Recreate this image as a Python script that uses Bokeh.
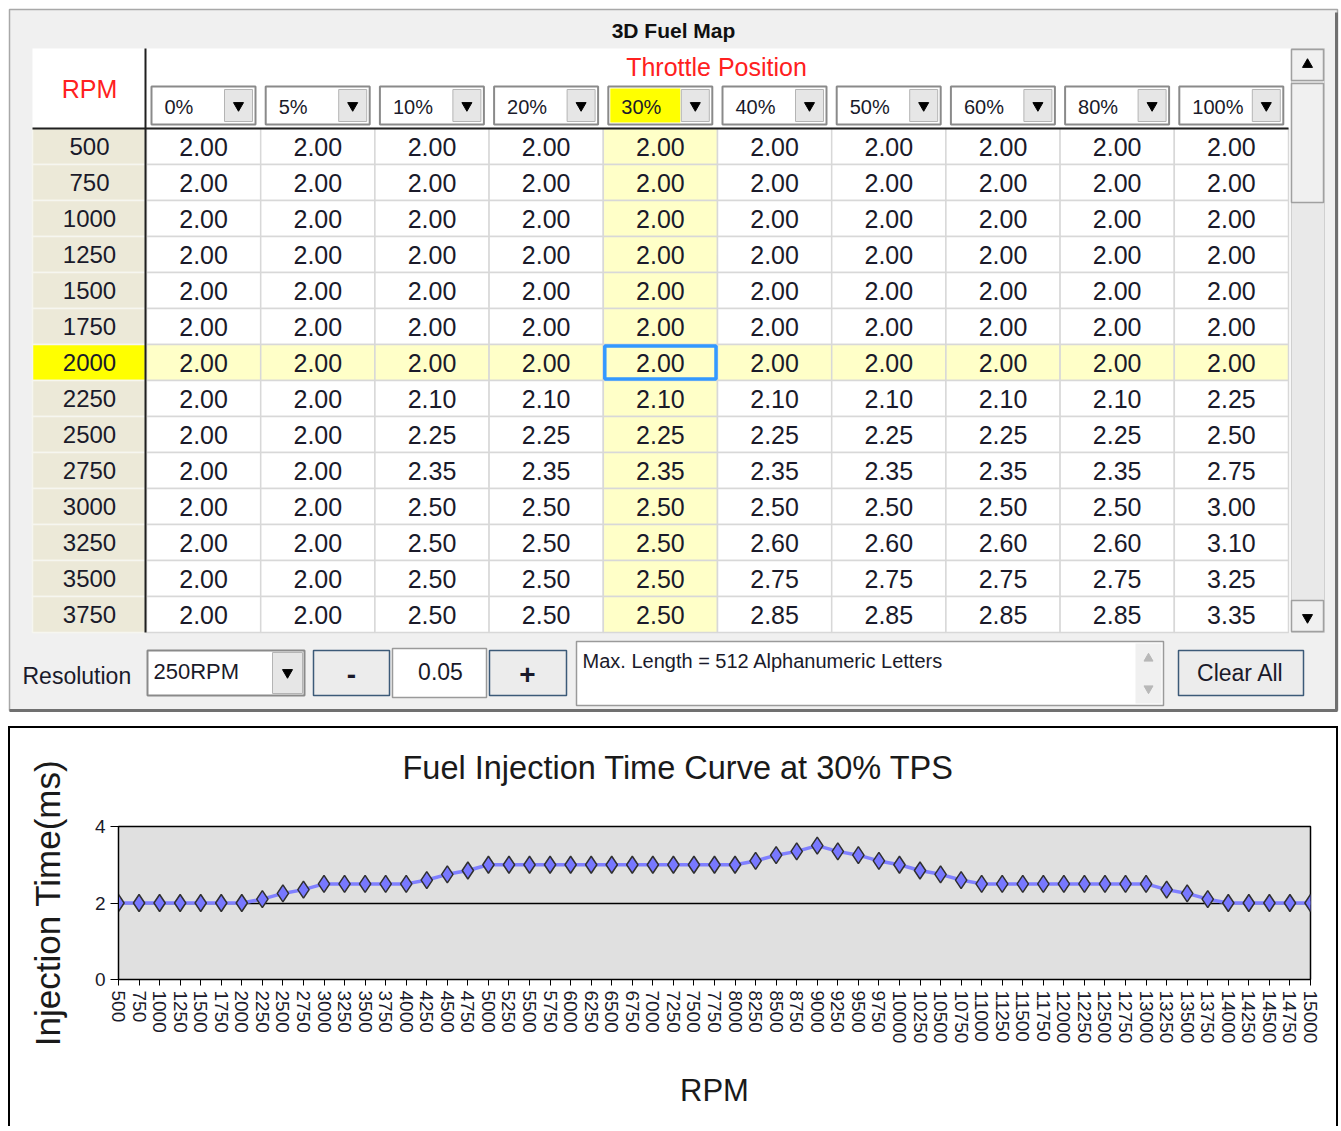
from bokeh.plotting import figure
from bokeh.models import Range1d, FixedTicker, Title
from bokeh.core.properties import value
from bokeh.embed import file_html
from bokeh.resources import INLINE

# ---------------- data ----------------
tps_labels = ["0%", "5%", "10%", "20%", "30%", "40%", "50%", "60%", "80%", "100%"]
table_rpm = [500, 750, 1000, 1250, 1500, 1750, 2000, 2250, 2500, 2750, 3000, 3250, 3500, 3750]

tps_0 = [2.00, 2.00, 2.00, 2.00, 2.00, 2.00, 2.00, 2.00, 2.00, 2.00, 2.00, 2.00, 2.00, 2.00]
tps_5 = [2.00, 2.00, 2.00, 2.00, 2.00, 2.00, 2.00, 2.00, 2.00, 2.00, 2.00, 2.00, 2.00, 2.00]
tps_10 = [2.00, 2.00, 2.00, 2.00, 2.00, 2.00, 2.00, 2.10, 2.25, 2.35, 2.50, 2.50, 2.50, 2.50]
tps_20 = [2.00, 2.00, 2.00, 2.00, 2.00, 2.00, 2.00, 2.10, 2.25, 2.35, 2.50, 2.50, 2.50, 2.50]
tps_30 = [2.00, 2.00, 2.00, 2.00, 2.00, 2.00, 2.00, 2.10, 2.25, 2.35, 2.50, 2.50, 2.50, 2.50]
tps_40 = [2.00, 2.00, 2.00, 2.00, 2.00, 2.00, 2.00, 2.10, 2.25, 2.35, 2.50, 2.60, 2.75, 2.85]
tps_50 = [2.00, 2.00, 2.00, 2.00, 2.00, 2.00, 2.00, 2.10, 2.25, 2.35, 2.50, 2.60, 2.75, 2.85]
tps_60 = [2.00, 2.00, 2.00, 2.00, 2.00, 2.00, 2.00, 2.10, 2.25, 2.35, 2.50, 2.60, 2.75, 2.85]
tps_80 = [2.00, 2.00, 2.00, 2.00, 2.00, 2.00, 2.00, 2.10, 2.25, 2.35, 2.50, 2.60, 2.75, 2.85]
tps_100 = [2.00, 2.00, 2.00, 2.00, 2.00, 2.00, 2.00, 2.25, 2.50, 2.75, 3.00, 3.10, 3.25, 3.35]
table_cols = [tps_0, tps_5, tps_10, tps_20, tps_30, tps_40, tps_50, tps_60, tps_80, tps_100]

selected_rpm = 2000
selected_tps = "30%"

curve_rpm = [500, 750, 1000, 1250, 1500, 1750, 2000, 2250, 2500, 2750, 3000, 3250, 3500, 3750,
             4000, 4250, 4500, 4750, 5000, 5250, 5500, 5750, 6000, 6250, 6500, 6750, 7000, 7250,
             7500, 7750, 8000, 8250, 8500, 8750, 9000, 9250, 9500, 9750, 10000, 10250, 10500,
             10750, 11000, 11250, 11500, 11750, 12000, 12250, 12500, 12750, 13000, 13250, 13500,
             13750, 14000, 14250, 14500, 14750, 15000]
curve_ms = [2.00, 2.00, 2.00, 2.00, 2.00, 2.00, 2.00, 2.10, 2.25, 2.35, 2.50, 2.50, 2.50, 2.50,
            2.50, 2.60, 2.75, 2.85, 3.00, 3.00, 3.00, 3.00, 3.00, 3.00, 3.00, 3.00, 3.00, 3.00,
            3.00, 3.00, 3.00, 3.10, 3.25, 3.35, 3.50, 3.35, 3.25, 3.10, 3.00, 2.85, 2.75,
            2.60, 2.50, 2.50, 2.50, 2.50, 2.50, 2.50, 2.50, 2.50, 2.50, 2.35, 2.25,
            2.10, 2.00, 2.00, 2.00, 2.00, 2.00]
y_ticks = [0, 2, 4]

FONT = value("Liberation Sans")
TXT = "#1a1a2a"

# ---------------- top panel (UI table) ----------------
p1 = figure(width=1340, height=726, x_range=Range1d(0, 1340), y_range=Range1d(726, 0),
            output_backend="svg", toolbar_location=None, min_border=0,
            x_axis_location=None, y_axis_location=None)
p1.grid.visible = False
p1.outline_line_color = None
p1.background_fill_color = "white"
p1.border_fill_color = "white"

# window
p1.quad(left=9, right=1337, top=9, bottom=710, fill_color="#f0f0f0", line_color="#a8a8a8", line_width=1.5)
p1.segment(x0=[9, 1336], y0=[710, 12], x1=[1337, 1336], y1=[710, 710], line_color="#707070", line_width=3)
p1.text(x=[673], y=[30], text=["3D Fuel Map"], text_font=FONT, text_font_style="bold",
        text_font_size="21px", text_align="center", text_baseline="middle", text_color="#101010")

# table background
TL, TR, TT, TB = 32, 1290, 48, 632
p1.quad(left=TL, right=TR, top=TT, bottom=TB, fill_color="white", line_color=None)

CX0, CW = 146, 114.2
RY0, RH = 128, 36

# cells
cl, cr, ct, cb, cf = [], [], [], [], []
tx, ty, tt = [], [], []
for i, r in enumerate(table_rpm):
    top = RY0 + i * RH
    for j, lab in enumerate(tps_labels):
        left = CX0 + j * CW
        cl.append(left); cr.append(left + CW); ct.append(top); cb.append(top + RH)
        cf.append("#ffffc8" if (lab == selected_tps or r == selected_rpm) else "white")
        tx.append(left + CW / 2); ty.append(top + RH / 2); tt.append("%.2f" % table_cols[j][i])
p1.quad(left=cl, right=cr, top=ct, bottom=cb, fill_color=cf, line_color="#d8d8d8", line_width=1.5)

rt, rb, rf, rtx = [], [], [], []
for i, r in enumerate(table_rpm):
    top = RY0 + i * RH
    rt.append(top); rb.append(top + RH)
    rf.append("#ffff00" if r == selected_rpm else "#ece9d8")
    rtx.append(top + RH / 2)
p1.quad(left=TL, right=145, top=rt, bottom=rb, fill_color=rf, line_color="#f6f6f0", line_width=1.5)
p1.text(x=[89] * len(table_rpm), y=rtx, text=[str(r) for r in table_rpm], text_font=FONT,
        text_font_size="24px", text_align="center", text_baseline="middle", text_color=TXT)
p1.text(x=tx, y=ty, text=tt, text_font=FONT, text_font_size="25px", text_align="center",
        text_baseline="middle", text_color=TXT)

# selected cell
si = table_rpm.index(selected_rpm)
sj = tps_labels.index(selected_tps)
p1.quad(left=CX0 + sj * CW + 1.5, right=CX0 + (sj + 1) * CW - 1.5, top=RY0 + si * RH + 1.5,
        bottom=RY0 + (si + 1) * RH - 1.5, fill_color=None, line_color="#3399ff", line_width=3.5)

# dark separators
p1.segment(x0=[145, TL], y0=[TT, 128], x1=[145, 1288], y1=[TB, 128], line_color="#202020", line_width=2)

# header texts
p1.text(x=[89], y=[88], text=["RPM"], text_font=FONT, text_font_size="25px", text_align="center",
        text_baseline="middle", text_color="#ff2020")
p1.text(x=[716], y=[66], text=["Throttle Position"], text_font=FONT, text_font_size="25px",
        text_align="center", text_baseline="middle", text_color="#ff2020")

# combo boxes in header
bl, br, al, ar, tri_x, lx = [], [], [], [], [], []
for j, lab in enumerate(tps_labels):
    left = CX0 + j * CW + 5
    right = left + 104
    bl.append(left); br.append(right)
    al.append(right - 31); ar.append(right - 3)
    tri_x.append(right - 17)
    lx.append(left + 13)
p1.quad(left=bl, right=br, top=86, bottom=124, fill_color="white", line_color="#8a8a8a", line_width=2)
p1.quad(left=[bl[sj] + 2], right=[al[sj] - 1], top=88, bottom=122, fill_color="#ffff00", line_color=None)
p1.quad(left=al, right=ar, top=89, bottom=121, fill_color="#e6e6e6", line_color="#b4b4b4", line_width=1)
p1.scatter(x=tri_x, y=[105] * len(tri_x), marker="inverted_triangle", size=10, fill_color="black", line_color="black")
p1.text(x=lx, y=[106] * len(lx), text=tps_labels, text_font=FONT, text_font_size="20px",
        text_align="left", text_baseline="middle", text_color=TXT)

# scrollbar
p1.quad(left=1291, right=1324, top=48, bottom=632, fill_color="#e9e9e9", line_color="#d0d0d0")
p1.quad(left=[1291, 1291, 1291], right=[1323, 1323, 1323], top=[49, 83, 600], bottom=[80, 202, 631],
        fill_color="#f0f0f0", line_color="#a0a0a0", line_width=1.5)
p1.scatter(x=[1307], y=[64], marker="triangle", size=10, fill_color="black", line_color="black")
p1.scatter(x=[1307], y=[617], marker="inverted_triangle", size=10, fill_color="black", line_color="black")

# bottom controls
p1.text(x=[22], y=[675], text=["Resolution"], text_font=FONT, text_font_size="23px",
        text_align="left", text_baseline="middle", text_color=TXT)
p1.quad(left=147, right=304, top=650, bottom=695, fill_color="white", line_color="#8a8a8a", line_width=2)
p1.quad(left=272, right=302, top=652, bottom=693, fill_color="#e6e6e6", line_color="#b4b4b4")
p1.scatter(x=[287], y=[672], marker="inverted_triangle", size=10, fill_color="black", line_color="black")
p1.text(x=[153], y=[671], text=["250RPM"], text_font=FONT, text_font_size="22px",
        text_align="left", text_baseline="middle", text_color=TXT)
p1.quad(left=[313, 489, 1178], right=[389, 566, 1303], top=650, bottom=695,
        fill_color="#ececec", line_color="#3c5a78", line_width=1.5)
p1.quad(left=392, right=486, top=648, bottom=697, fill_color="white", line_color="#9a9a9a", line_width=1.5)
p1.text(x=[351, 527], y=[674, 674], text=["-", "+"], text_font=FONT, text_font_size="28px",
        text_font_style="bold", text_align="center", text_baseline="middle", text_color=TXT)
p1.text(x=[440, 1240], y=[671, 672], text=["0.05", "Clear All"], text_font=FONT, text_font_size="23px",
        text_align="center", text_baseline="middle", text_color=TXT)
p1.quad(left=576, right=1163, top=641, bottom=705, fill_color="white", line_color="#9a9a9a", line_width=1.5)
p1.quad(left=1135, right=1161, top=643, bottom=703, fill_color="#f0f0f0", line_color=None)
p1.scatter(x=[1148, 1148], y=[658, 688], marker=["triangle", "inverted_triangle"], size=9,
           fill_color="#b8b8b8", line_color="#b8b8b8")
p1.text(x=[582], y=[660], text=["Max. Length = 512 Alphanumeric Letters"], text_font=FONT,
        text_font_size="20px", text_align="left", text_baseline="middle", text_color=TXT)

# ---------------- bottom chart ----------------
p2 = figure(width=1330, height=400, x_range=Range1d(500, 15000), y_range=Range1d(0, 4),
            output_backend="svg", toolbar_location=None,
            min_border_left=110, min_border_right=28, min_border_top=100, min_border_bottom=147)
p2.background_fill_color = "#e0e0e0"
p2.border_fill_color = None
p2.outline_line_color = "black"
p2.outline_line_width = 1.5
p2.styles = {"margin-left": "8px",
             "box-shadow": "inset 2px 2px 0 0 #000, inset -2px 0 0 0 #000",
             "background-color": "white"}
p2.xgrid.visible = False
p2.ygrid.ticker = FixedTicker(ticks=[2, 4])
p2.ygrid.grid_line_color = "black"
p2.ygrid.grid_line_width = 1.5

# white (invisible) spacer closest to the frame, then the chart title above it
p2.add_layout(Title(text=".", text_font_size="10px", text_color="white", standoff=26), "above")
p2.add_layout(Title(text="Fuel Injection Time Curve at 30% TPS", align="left", offset=284,
                    vertical_align="bottom", standoff=10, text_font="Liberation Sans",
                    text_font_style="normal", text_font_size="32.5px", text_color="#1a1a1a"), "above")

p2.xaxis.ticker = FixedTicker(ticks=curve_rpm, minor_ticks=[])
p2.xaxis.major_label_overrides = {v: str(v) for v in curve_rpm}
p2.xaxis.major_label_orientation = "vertical"
p2.yaxis.ticker = FixedTicker(ticks=y_ticks, minor_ticks=[])
for ax in (p2.xaxis, p2.yaxis):
    ax.major_label_text_font = "Liberation Sans"
    ax.major_label_text_font_size = "19px"
    ax.major_label_text_color = TXT
    ax.axis_label_text_font = "Liberation Sans"
    ax.axis_label_text_font_style = "normal"
    ax.axis_label_text_color = "#1a1a1a"
    ax.axis_line_color = "black"
    ax.major_tick_line_color = "black"
    ax.major_tick_in = 0
    ax.major_label_standoff = 5
p2.xaxis.major_tick_out = 6
p2.yaxis.major_tick_out = 8
p2.xaxis.axis_label = "RPM"
p2.xaxis.axis_label_text_font_size = "31px"
p2.xaxis.axis_label_standoff = 27
p2.yaxis.axis_label = "Injection Time(ms)"
p2.yaxis.axis_label_text_font_size = "35px"
p2.yaxis.axis_label_standoff = 25

p2.line(curve_rpm, curve_ms, line_color="#8080ff", line_width=3.5)
p2.scatter(curve_rpm, curve_ms, marker="diamond", size=17, fill_color="#7878ff",
           line_color="#303030", line_width=1.5)

open("out.html", "w").write(file_html([p1, p2], INLINE))
